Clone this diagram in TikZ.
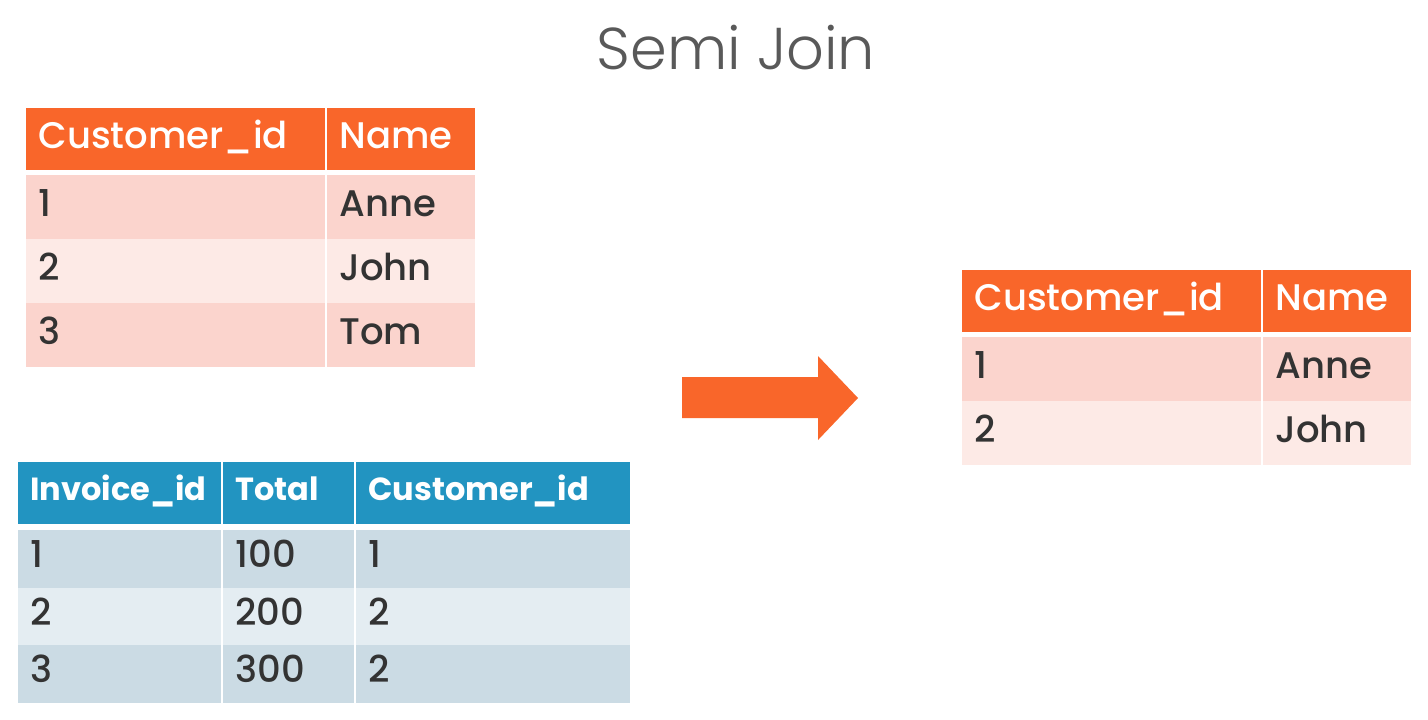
\documentclass[tikz,border=0pt]{standalone}
\usepackage{fontspec}
\setmainfont{Poppins}[UprightFont=* Medium, BoldFont=* Bold]
\newfontfamily\titlefont{Poppins}[UprightFont=* Light]
\definecolor{hdrorange}{HTML}{F9662A}
\definecolor{pinkA}{HTML}{FBD4CD}
\definecolor{pinkB}{HTML}{FDEAE6}
\definecolor{hdrblue}{HTML}{2294C1}
\definecolor{blueA}{HTML}{CBDBE4}
\definecolor{blueB}{HTML}{E4EDF2}
\definecolor{ink}{HTML}{333333}
\begin{document}
\begin{tikzpicture}[x=0.5pt,y=-0.5pt]
            \tikzset{
                cell/.style={anchor=north west, rectangle, inner xsep=6pt, inner ysep=0pt,
                    text width=#1, minimum height=32pt, text height=0.88em, text depth=0pt,
                    align=left, font=\fontsize{18.5}{20}\selectfont, text=ink},
                orangehead/.style={cell=#1, fill=hdrorange, minimum height=31pt, text=white},
                bluehead/.style={cell=#1, fill=hdrblue, minimum height=31pt, text=white,
                    font=\fontsize{16}{18}\selectfont\bfseries, text height=0.75em},
            }
            \useasboundingbox (0,0) rectangle (1428,719);
            \node [font=\titlefont\fontsize{29.5}{31}\selectfont, text=black!65] (title) at (736,48) {Semi Join};
            % customers
            \node [orangehead=137.5pt] (cid0) at (26,108) {Customer\_id};
            \node [orangehead=62pt] (cnm0) at (327,108) {Name};
            \foreach \r/\nm/\col in {1/Anne/pinkA, 2/John/pinkB, 3/Tom/pinkA}{
                \node [cell=137.5pt, fill=\col] (cid\r) at (26,{175+64*(\r-1)}) {\r};
                \node [cell=62pt, fill=\col] (cnm\r) at (327,{175+64*(\r-1)}) {\nm};
            }
            % invoices
            \node [bluehead=89.5pt] (iid0) at (18,462) {Invoice\_id};
            \node [bluehead=53.5pt] (itot0) at (223,462) {Total};
            \node [bluehead=125pt] (icid0) at (356,462) {Customer\_id};
            \foreach \r/\tot/\c/\col in {1/100/1/blueA, 2/200/2/blueB, 3/300/2/blueA}{
                \node [cell=89.5pt, fill=\col, minimum height=28.75pt] (iid\r) at (18,{530+57.5*(\r-1)}) {\r};
                \node [cell=53.5pt, fill=\col, minimum height=28.75pt] (itot\r) at (223,{530+57.5*(\r-1)}) {\tot};
                \node [cell=125pt, fill=\col, minimum height=28.75pt] (icid\r) at (356,{530+57.5*(\r-1)}) {\c};
            }
            % arrow
            \fill [hdrorange] (682,377) -- (818,377) -- (818,356) -- (858,398) -- (818,440) -- (818,418) -- (682,418) -- cycle;
            % result
            \node [orangehead=137.5pt] (rid0) at (962,270) {Customer\_id};
            \node [orangehead=62pt] (rnm0) at (1263,270) {Name};
            \foreach \r/\nm/\col in {1/Anne/pinkA, 2/John/pinkB}{
                \node [cell=137.5pt, fill=\col] (rid\r) at (962,{337+64*(\r-1)}) {\r};
                \node [cell=62pt, fill=\col] (rnm\r) at (1263,{337+64*(\r-1)}) {\nm};
            }
        \end{tikzpicture}
\end{document}
